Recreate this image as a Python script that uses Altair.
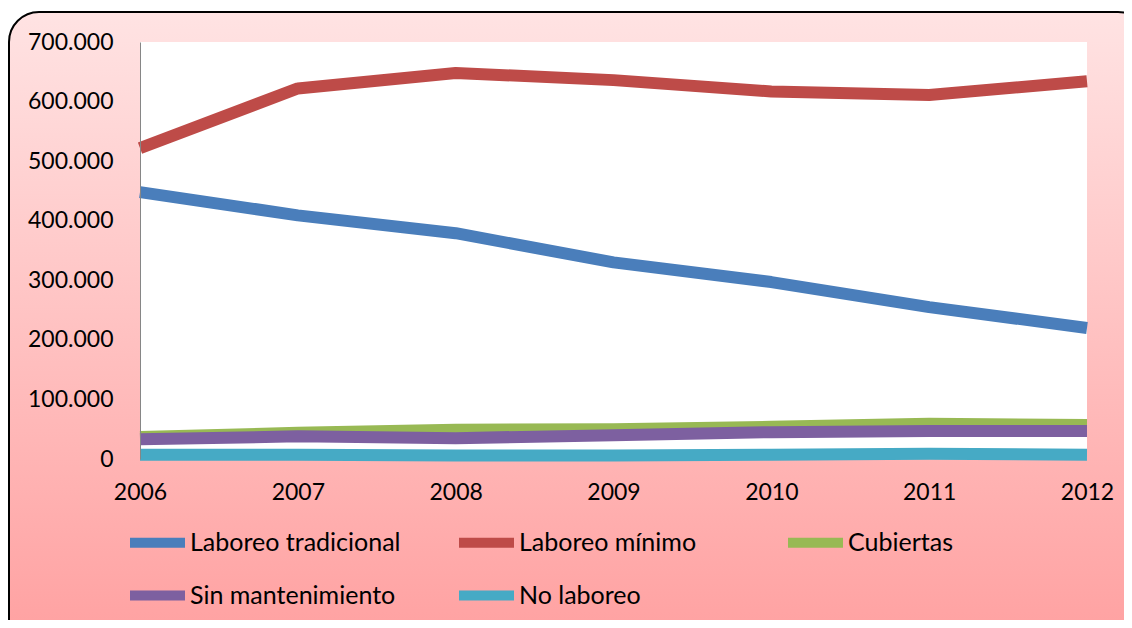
import altair as alt
import pandas as pd

years = [2006, 2007, 2008, 2009, 2010, 2011, 2012]
series_names = ["Laboreo tradicional", "Laboreo mínimo", "Cubiertas",
                "Sin mantenimiento", "No laboreo"]
tradicional = [448000, 409000, 379000, 330000, 297000, 255000, 220000]
minimo = [522000, 622000, 648000, 636000, 617000, 611000, 634000]
cubiertas = [37000, 44000, 49000, 50000, 54000, 59000, 57000]
sin_mant = [33000, 38000, 35000, 40000, 45000, 47000, 47000]
no_laboreo = [7000, 7000, 6000, 6000, 7000, 9000, 7000]
colors = ["#4A7EBB", "#BE4B48", "#98B954", "#7D60A0", "#46AAC5"]
y_ticks = [0, 100000, 200000, 300000, 400000, 500000, 600000, 700000]

all_series = [tradicional, minimo, cubiertas, sin_mant, no_laboreo]
rows = []
for name, vals in zip(series_names, all_series):
    for yr, v in zip(years, vals):
        rows.append({"year": yr, "value": v, "serie": name})
df = pd.DataFrame(rows)

W, H = 1116, 612
FONT = "Lato"
FS = 23
LFS = 25

x_scale = alt.Scale(domain=[2006, 2012], range=[132, 1079], nice=False, zero=False)
y_scale = alt.Scale(domain=[0, 700000], range=[451, 34], nice=False, zero=False)

x_axis = alt.Axis(values=years, format="d", domain=False, ticks=False, grid=False,
                  labelFontSize=FS, labelFont=FONT, labelColor="black",
                  labelPadding=22, offset=-(H - 451), title=None,
                  labelOverlap=False, labelFlush=False, zindex=2)
y_axis = alt.Axis(values=y_ticks, domain=True, domainColor="#868686", domainWidth=1,
                  ticks=False, grid=False, labelFontSize=FS, labelFont=FONT,
                  labelColor="black", labelPadding=27, offset=-132, title=None,
                  labelOverlap=False, labelFlush=False, zindex=2,
                  labelExpr="replace(format(datum.value, ',d'), /,/g, '.')")

color_scale = alt.Scale(domain=series_names, range=colors)
legend = alt.Legend(orient="none", legendX=117, legendY=502, columns=3,
                    direction="horizontal",
                    gridAlign="all", columnPadding=38, rowPadding=-15,
                    symbolType="stroke", symbolSize=3025, symbolStrokeWidth=10,
                    labelFontSize=LFS, labelFont=FONT, labelColor="black",
                    labelOffset=0, labelLimit=400, title=None, padding=0, zindex=2)

bg = alt.Chart(pd.DataFrame({"a": [0]})).mark_rect(
    fill=alt.Gradient(gradient="linear",
                      stops=[alt.GradientStop(color="#FFE3E3", offset=0),
                             alt.GradientStop(color="#FF9E9E", offset=1)],
                      x1=0, x2=0, y1=0, y2=1),
    stroke="black", strokeWidth=2, cornerRadius=30
).encode(x=alt.value(1), x2=alt.value(1140), y=alt.value(4), y2=alt.value(660))

plot_bg = alt.Chart(pd.DataFrame({"a": [0]})).mark_rect(fill="white").encode(
    x=alt.X(datum=2006, scale=x_scale, axis=x_axis),
    x2=alt.X2(datum=2012),
    y=alt.Y(datum=0, scale=y_scale, axis=y_axis),
    y2=alt.Y2(datum=700000),
)

line_layers = []
for name in series_names:
    line_layers.append(
        alt.Chart(df).transform_filter(alt.datum.serie == name).mark_line(
            strokeWidth=12, strokeJoin="round", strokeCap="butt"
        ).encode(
            x=alt.X("year:Q", scale=x_scale, axis=x_axis),
            y=alt.Y("value:Q", scale=y_scale, axis=y_axis),
            color=alt.Color("serie:N", scale=color_scale, legend=legend),
        )
    )

chart = alt.layer(bg, plot_bg, *line_layers).properties(
    width=W, height=H, padding=0,
    autosize=alt.AutoSizeParams(type="none"),
).configure_view(stroke=None)

chart.save("out.html", embed_options={"renderer": "svg", "actions": False})
